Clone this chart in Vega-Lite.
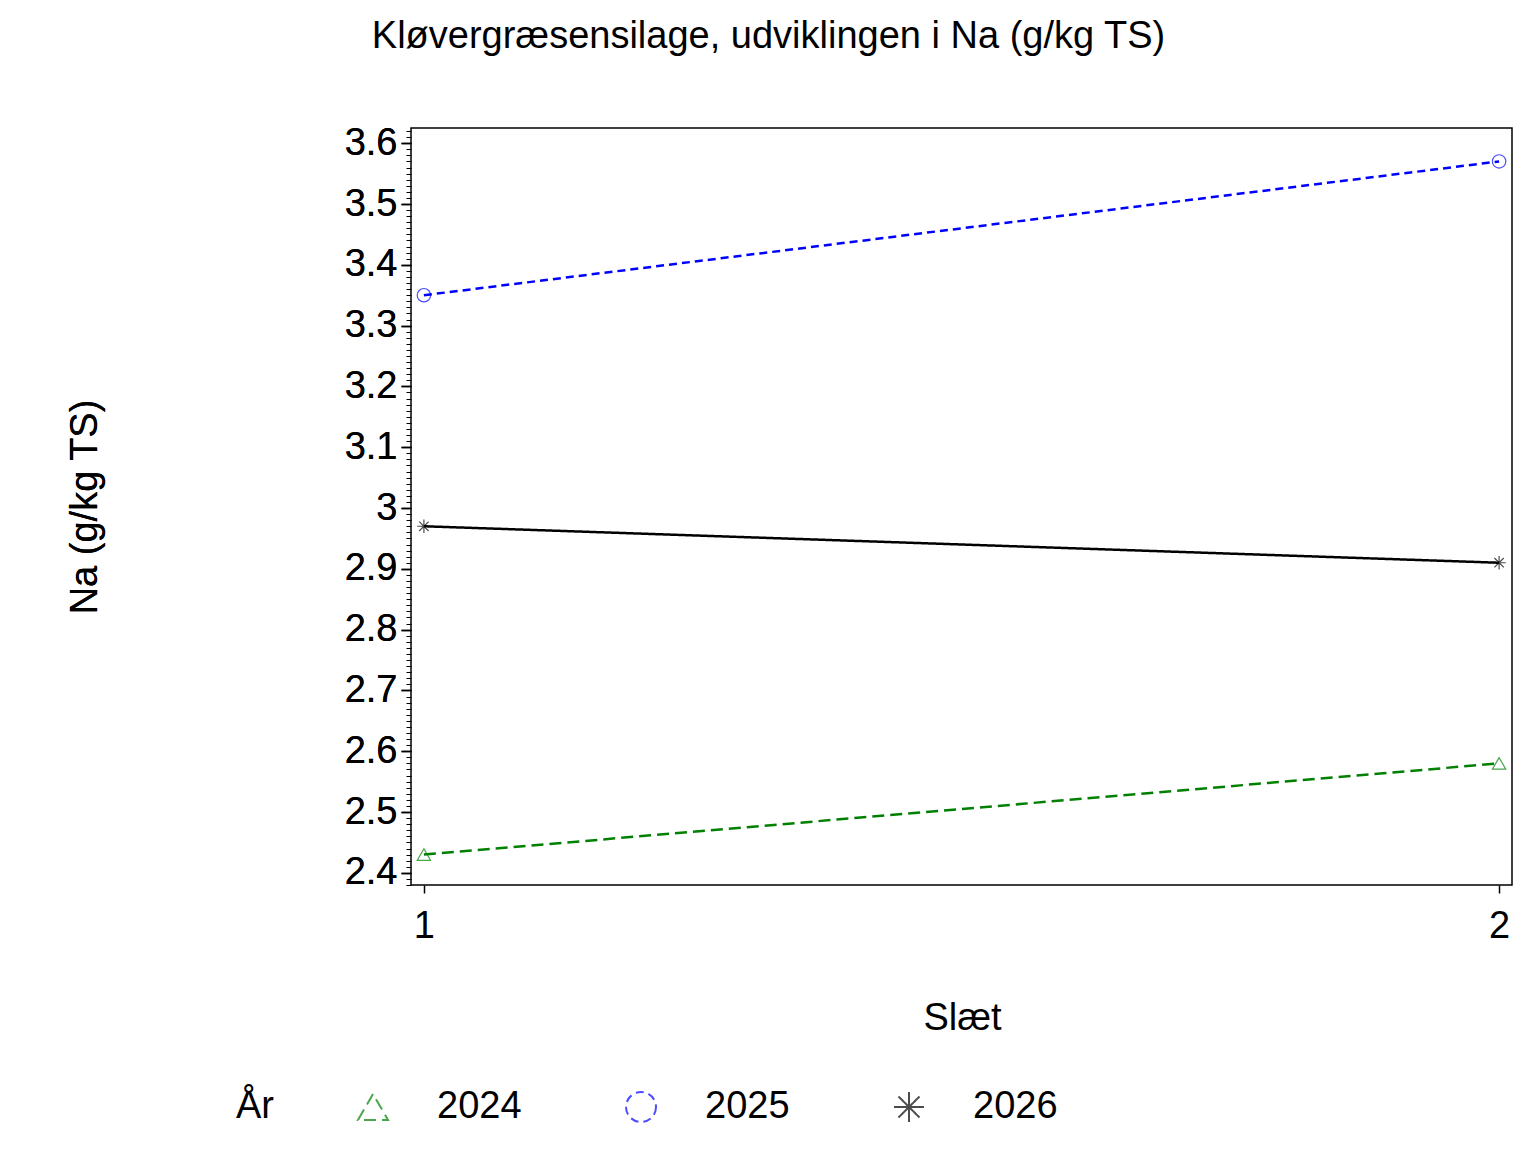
{
  "$schema": "https://vega.github.io/schema/vega-lite/v6.json",
  "width": 1101,
  "height": 757,
  "autosize": {"type": "none"},
  "padding": {"left": 411, "top": 128, "right": 24, "bottom": 267},
  "background": "white",
  "config": {
    "font": "Liberation Sans",
    "view": {"stroke": "black", "strokeWidth": 1.5},
    "axis": {"grid": false, "domain": false, "labelColor": "black", "titleColor": "black", "tickColor": "black", "labelFont": "Liberation Sans", "titleFont": "Liberation Sans", "titleFontWeight": "normal"}
  },
  "title": {"text": "Kløvergræsensilage,  udviklingen  i  Na  (g/kg  TS)", "fontSize": 38, "fontWeight": "normal", "anchor": "middle", "dx": -193, "offset": 68, "color": "black"},
  "data": {"values": [
    {"slaet": 1, "na": 2.43, "aar": "2024"},
    {"slaet": 2, "na": 2.58, "aar": "2024"},
    {"slaet": 1, "na": 3.35, "aar": "2025"},
    {"slaet": 2, "na": 3.57, "aar": "2025"},
    {"slaet": 1, "na": 2.97, "aar": "2026"},
    {"slaet": 2, "na": 2.91, "aar": "2026"}
  ]},
  "encoding": {
    "x": {"field": "slaet", "type": "quantitative", "scale": {"domain": [0.988, 2.012], "nice": false, "zero": false},
      "axis": {"values": [1, 2], "format": "d", "title": "Slæt", "labelFontSize": 38, "titleFontSize": 38, "tickSize": 8, "labelPadding": 14, "titlePadding": 54, "titleX": 551, "tickWidth": 1.5}},
    "y": {"field": "na", "type": "quantitative", "scale": {"domain": [2.38, 3.625], "nice": false, "zero": false},
      "axis": {"values": [2.4, 2.5, 2.6, 2.7, 2.8, 2.9, 3.0, 3.1, 3.2, 3.3, 3.4, 3.5, 3.6], "format": ".1~f", "title": "Na (g/kg TS)", "labelFontSize": 38, "titleFontSize": 38, "tickSize": 10, "labelPadding": 4, "titlePadding": 240, "tickWidth": 1.5, "orient": "left"}},
    "color": {"field": "aar", "type": "nominal", "title": "År", "scale": {"domain": ["2024", "2025", "2026"], "range": ["#008000", "#0000ff", "#000000"]},
      "legend": {"orient": "none", "legendX": -175, "legendY": 960, "direction": "horizontal", "titleOrient": "left", "titleFontSize": 38, "titleFontWeight": "normal", "titleColor": "black", "titlePadding": 80, "labelFontSize": 38, "labelColor": "black", "labelOffset": 45, "symbolSize": 900, "symbolStrokeWidth": 2, "columnPadding": 100, "titleBaseline": "middle"}}
  },
  "layer": [
    {
      "data": {"values": [{"v": 2.4}]},
      "mark": {"type": "rule", "opacity": 0},
      "encoding": {"y": {"field": "v", "type": "quantitative", "scale": {"domain": [2.38, 3.625], "nice": false, "zero": false},
        "axis": {"orient": "left", "values": [2.38,2.39,2.41,2.42,2.43,2.44,2.45,2.46,2.47,2.48,2.49,2.51,2.52,2.53,2.54,2.55,2.56,2.57,2.58,2.59,2.61,2.62,2.63,2.64,2.65,2.66,2.67,2.68,2.69,2.71,2.72,2.73,2.74,2.75,2.76,2.77,2.78,2.79,2.81,2.82,2.83,2.84,2.85,2.86,2.87,2.88,2.89,2.91,2.92,2.93,2.94,2.95,2.96,2.97,2.98,2.99,3.01,3.02,3.03,3.04,3.05,3.06,3.07,3.08,3.09,3.11,3.12,3.13,3.14,3.15,3.16,3.17,3.18,3.19,3.21,3.22,3.23,3.24,3.25,3.26,3.27,3.28,3.29,3.31,3.32,3.33,3.34,3.35,3.36,3.37,3.38,3.39,3.41,3.42,3.43,3.44,3.45,3.46,3.47,3.48,3.49,3.51,3.52,3.53,3.54,3.55,3.56,3.57,3.58,3.59,3.61,3.62], "labels": false, "title": null, "tickSize": 5, "tickWidth": 1}}, "x": {"value": 0}, "color": {"value": "black"}}
    },
    {
      "mark": {"type": "line", "strokeWidth": 2.5},
      "encoding": {
        "strokeDash": {"field": "aar", "type": "nominal", "title": "År", "scale": {"domain": ["2024", "2025", "2026"], "range": [[12, 6], [8, 5], [1, 0]]}}
      }
    },
    {
      "mark": {"type": "point", "size": 180, "strokeWidth": 1.2, "filled": false},
      "encoding": {
        "shape": {"field": "aar", "type": "nominal", "title": "År", "scale": {"domain": ["2024", "2025", "2026"], "range": ["triangle-up", "circle", "M-1,0L1,0M0,-1L0,1M-0.7,-0.7L0.7,0.7M-0.7,0.7L0.7,-0.7"]}}
      }
    }
  ],
  "resolve": {"scale": {"y": "shared"}, "axis": {"y": "independent"}}
}
